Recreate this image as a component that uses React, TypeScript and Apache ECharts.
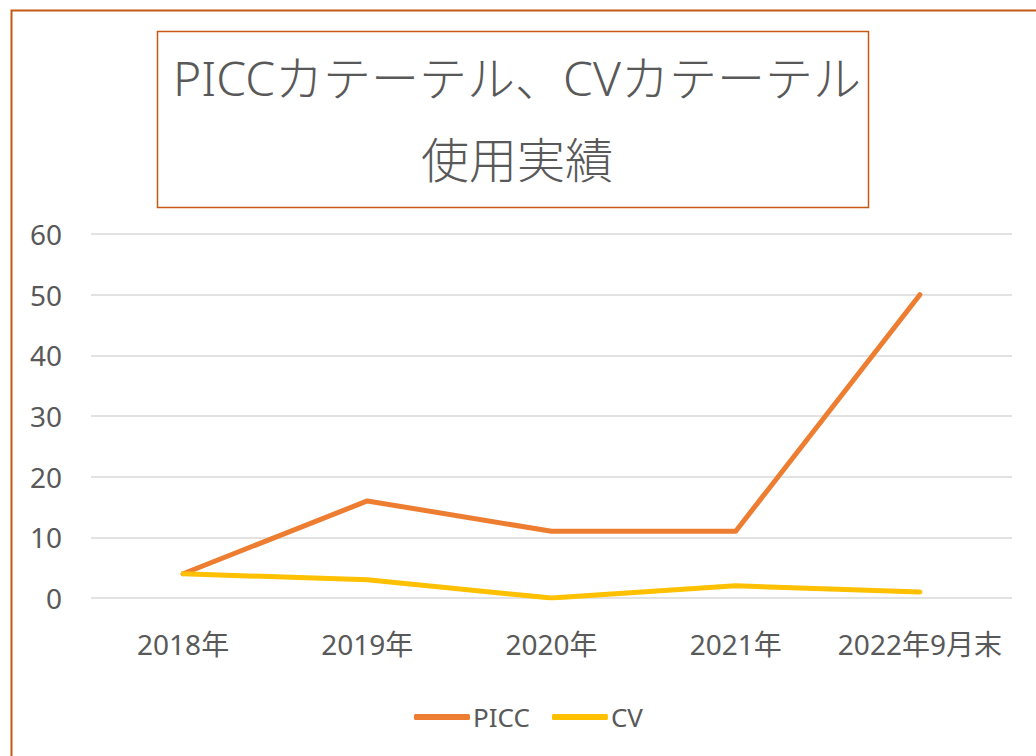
import React, { useEffect, useRef } from "react";
import * as echarts from "echarts";

const categories = ["2018年", "2019年", "2020年", "2021年", "2022年9月末"];
const piccValues = [4, 16, 11, 11, 50];
const cvValues = [4, 3, 0, 2, 1];
const yTicks = { min: 0, max: 60, interval: 10 };
const titleText = "PICCカテーテル、CVカテーテル\n使用実績";

const FONT = "'Noto Sans', 'Noto Sans CJK JP', sans-serif";

export default function App() {
  const ref = useRef<HTMLDivElement>(null);
  useEffect(() => {
    if (!ref.current) return;
    const chart = echarts.init(ref.current, null, { renderer: "svg" });
    chart.setOption({
      animation: false,
      backgroundColor: "#ffffff",
      textStyle: { fontFamily: FONT },
      title: {
        text: titleText,
        left: 512,
        top: 31,
        textAlign: "center",
        textStyle: {
          fontFamily: FONT,
          fontSize: 48,
          fontWeight: 300,
          color: "#595959",
          lineHeight: 82,
        },
      },
      graphic: [
        {
          type: "rect",
          shape: { x: 11.5, y: 10.5, width: 1100, height: 800 },
          style: { fill: "none", stroke: "#C65911", lineWidth: 2 },
          silent: true,
        },
        {
          type: "rect",
          shape: { x: 157.5, y: 31.5, width: 711, height: 176 },
          style: { fill: "none", stroke: "#C65911", lineWidth: 1.5 },
          silent: true,
        },
      ],
      grid: { left: 91, right: 24, top: 234, bottom: 158, containLabel: false },
      xAxis: {
        type: "category",
        data: categories,
        boundaryGap: true,
        axisLine: { show: false },
        axisTick: { show: false },
        axisLabel: { color: "#595959", fontSize: 28, margin: 32, interval: 0, fontFamily: FONT },
      },
      yAxis: {
        type: "value",
        min: yTicks.min,
        max: yTicks.max,
        interval: yTicks.interval,
        axisLine: { show: false },
        axisTick: { show: false },
        axisLabel: { color: "#595959", fontSize: 28, margin: 29, fontFamily: FONT },
        splitLine: { lineStyle: { color: "#D9D9D9", width: 1.5 } },
      },
      legend: {
        top: 699,
        left: 409,
        icon: "roundRect",
        itemWidth: 56,
        itemHeight: 6,
        itemGap: 22,
        textStyle: { color: "#595959", fontSize: 26, fontFamily: FONT, padding: [0, 0, 0, -2] },
        data: ["PICC", "CV"],
      },
      series: [
        {
          name: "PICC",
          type: "line",
          data: piccValues,
          symbol: "none",
          lineStyle: { color: "#ED7D31", width: 5, cap: "round", join: "round" },
          itemStyle: { color: "#ED7D31" },
        },
        {
          name: "CV",
          type: "line",
          data: cvValues,
          symbol: "none",
          lineStyle: { color: "#FFC000", width: 5, cap: "round", join: "round" },
          itemStyle: { color: "#FFC000" },
        },
      ],
    });
    return () => chart.dispose();
  }, []);
  return (
    <div
      ref={ref}
      style={{ position: "absolute", left: 0, top: 0, width: 1036, height: 756 }}
    />
  );
}
